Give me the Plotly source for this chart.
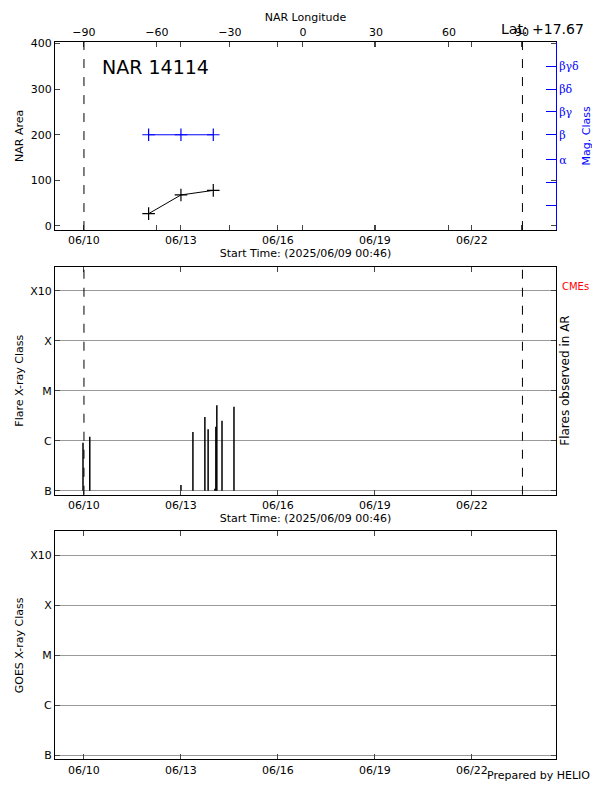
import plotly.graph_objects as go

# NAR 14114 - area and magnetic class
nar_times = ["2025-06-12 00:00", "2025-06-13 00:00", "2025-06-14 00:00"]
nar_area = [27, 68, 78]
mag_class = [200, 200, 200]

mag_vals = [45, 95, 145, 200, 250, 300, 350]
mag_text = ["", "", "α", "β", "βγ", "βδ", "βγδ"]

# flares in the region
flare_times = ["2025-06-09 23:17", "2025-06-10 04:19", "2025-06-13 00:00", "2025-06-13 08:53",
               "2025-06-13 17:46", "2025-06-13 20:10", "2025-06-14 01:12", "2025-06-14 01:55",
               "2025-06-14 02:38", "2025-06-14 06:29", "2025-06-14 15:22"]
flare_flux = [9.1e-7, 1.2e-6, 1.3e-7, 1.5e-6, 3.0e-6, 1.7e-6, 1.1e-7, 1.9e-6, 5.1e-6, 2.5e-6, 4.8e-6]

limb_times = ["2025-06-10 00:00", "2025-06-23 13:30"]
date_ticks = ["2025-06-10", "2025-06-13", "2025-06-16", "2025-06-19", "2025-06-22"]
class_vals = [1e-7, 1e-6, 1e-5, 1e-4, 1e-3]
class_text = ["B", "C", "M", "X", "X10"]
lon_ticks = [-90, -60, -30, 0, 30, 60, 90]

t_range = ["2025-06-09 02:30", "2025-06-24 14:25"]
font = dict(family="DejaVu Sans", size=11, color="black")

# page body has an 8px margin, so shift positions to match the reference
def px(x):
    return (x - 8) / 600

def py(y):
    return 1 - (y - 8) / 800

xd = [px(55), px(556)]
fig = go.Figure()

fig.add_trace(go.Scatter(x=nar_times, y=nar_area, mode="lines+markers",
                         line=dict(color="black", width=1),
                         marker=dict(symbol="cross-thin", size=9, line=dict(color="black", width=1.2)),
                         xaxis="x", yaxis="y"))
fig.add_trace(go.Scatter(x=nar_times, y=mag_class, mode="lines+markers",
                         line=dict(color="blue", width=1),
                         marker=dict(symbol="cross-thin", size=9, line=dict(color="blue", width=1.2)),
                         xaxis="x", yaxis="y2"))

fx, fy = [], []
for t, v in zip(flare_times, flare_flux):
    fx += [t, t, None]
    fy += [1e-7, v, None]
fig.add_trace(go.Scatter(x=fx, y=fy, mode="lines", line=dict(color="black", width=1.5),
                         xaxis="x3", yaxis="y3"))
# empty GOES panel and longitude axis
fig.add_trace(go.Scatter(x=[t_range[0]], y=[None], mode="lines", xaxis="x4", yaxis="y4"))
fig.add_trace(go.Scatter(x=[0], y=[None], mode="lines", xaxis="x2", yaxis="y"))

# limb crossings
for t in limb_times:
    for xa, ya in [("x", "y"), ("x3", "y3")]:
        fig.add_shape(type="line", x0=t, x1=t, y0=0, y1=1, xref=xa,
                      yref=ya + " domain", line=dict(color="black", width=1, dash="dash"))

ax = dict(showline=True, linecolor="black", linewidth=1, mirror="ticks", ticks="inside",
          ticklen=5, tickfont=font, zeroline=False)
xdate = dict(ax, type="date", range=t_range, tickvals=date_ticks, tickformat="%m/%d",
             showgrid=False, domain=xd)
ylog = dict(ax, type="log", range=[-7.08, -2.52], tickvals=class_vals, ticktext=class_text,
            showgrid=True, gridcolor="#999999", gridwidth=1)

fig.update_layout(
    width=600, height=800, margin=dict(l=0, r=0, t=0, b=0),
    plot_bgcolor="white", paper_bgcolor="white", showlegend=False, font=font,
    xaxis=dict(xdate, anchor="y", title=dict(text="Start Time: (2025/06/09 00:46)", font=font, standoff=2)),
    xaxis2=dict(ax, range=[-101.9, 104], tickvals=lon_ticks, overlaying="x", side="top", anchor="y",
                showgrid=False, title=dict(text="NAR Longitude", font=font, standoff=2)),
    yaxis=dict(ax, range=[-9, 404], domain=[py(228), py(38)], anchor="x", showgrid=False,
               dtick=100, title=dict(text="NAR Area", font=font, standoff=4)),
    yaxis2=dict(range=[-9, 404], overlaying="y", side="right", anchor="x", tickvals=mag_vals,
                ticktext=mag_text, showline=True, linecolor="blue", linewidth=1,
                ticks="inside", ticklen=10, tickcolor="blue", showgrid=False, zeroline=False,
                tickfont=dict(family="DejaVu Serif", size=11, color="blue"),
                title=dict(text="Mag. Class", font=dict(family="DejaVu Sans", size=11, color="blue"),
                           standoff=4)),
    xaxis3=dict(xdate, anchor="y3", title=dict(text="Start Time: (2025/06/09 00:46)", font=font, standoff=2)),
    yaxis3=dict(ylog, domain=[py(495), py(265)], anchor="x3",
                title=dict(text="Flare X-ray Class", font=font, standoff=4)),
    xaxis4=dict(xdate, anchor="y4"),
    yaxis4=dict(ylog, domain=[py(762), py(532)], anchor="x4",
                title=dict(text="GOES X-ray Class", font=font, standoff=4)),
)

fig.add_annotation(text="NAR 14114", x=px(100), y=py(50), xref="paper", yref="paper",
                   xanchor="left", showarrow=False, font=dict(family="DejaVu Sans", size=19))
fig.add_annotation(text="Lat: +17.67", x=px(586), y=py(15), xref="paper", yref="paper",
                   xanchor="right", showarrow=False, font=dict(family="DejaVu Sans", size=14))
fig.add_annotation(text="CMEs", x=px(560), y=py(285), xref="paper", yref="paper",
                   xanchor="left", showarrow=False, font=dict(family="DejaVu Sans", size=10, color="red"))
fig.add_annotation(text="Flares observed in AR", x=px(574), y=py(380), xref="paper", yref="paper",
                   textangle=-90, showarrow=False, font=dict(family="DejaVu Sans", size=12))
fig.add_annotation(text="Prepared by HELIO", x=px(592), y=py(787), xref="paper", yref="paper",
                   xanchor="right", showarrow=False, font=font)

fig.write_html("out.html")
